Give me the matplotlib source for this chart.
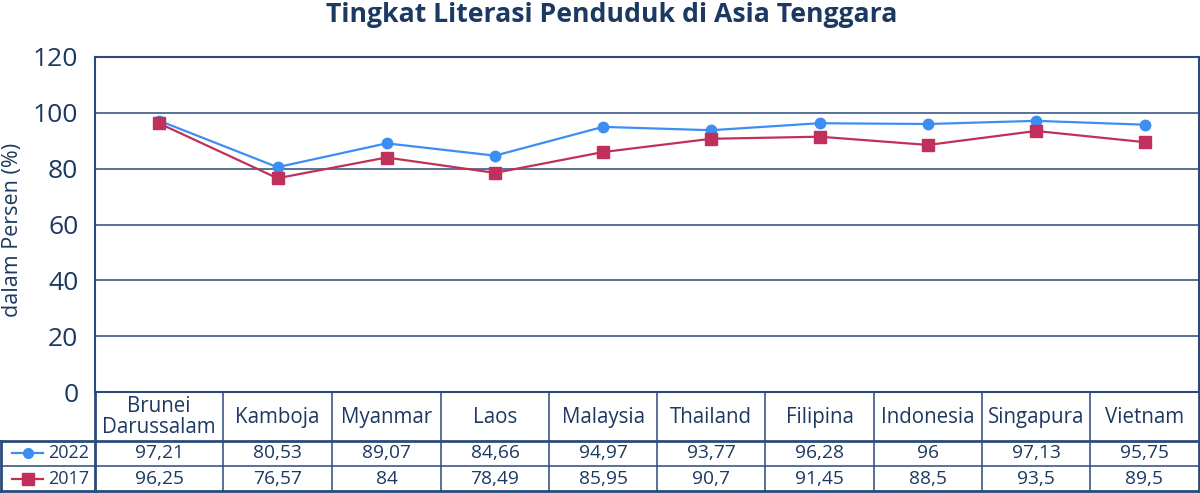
import matplotlib.pyplot as plt
import numpy as np

plt.rcParams['font.family'] = ['Open Sans', 'DejaVu Sans']

countries = ["Brunei\nDarussalam", "Kamboja", "Myanmar", "Laos", "Malaysia",
             "Thailand", "Filipina", "Indonesia", "Singapura", "Vietnam"]
lit_2022 = [97.21, 80.53, 89.07, 84.66, 94.97, 93.77, 96.28, 96, 97.13, 95.75]
lit_2017 = [96.25, 76.57, 84, 78.49, 85.95, 90.7, 91.45, 88.5, 93.5, 89.5]
labels_2022 = ["97,21", "80,53", "89,07", "84,66", "94,97", "93,77", "96,28", "96", "97,13", "95,75"]
labels_2017 = ["96,25", "76,57", "84", "78,49", "85,95", "90,7", "91,45", "88,5", "93,5", "89,5"]
yticks = [0, 20, 40, 60, 80, 100, 120]

navy = '#1c3961'
line_c = '#2b4a7a'
blue = '#3d8ef2'
red = '#c0305a'

W, H = 1200, 493
fig = plt.figure(figsize=(12, 4.93), dpi=100)

# pixel layout (the first table column is wider than the rest)
px_left, px_right, px_top, px_bot = 95, 1199, 57, 392
col_edges = np.array([95, 223, 332, 441, 549, 657, 765, 874, 982, 1090, 1199], dtype=float)
col_mid = (col_edges[:-1] + col_edges[1:]) / 2

ax = fig.add_axes([px_left / W, (H - px_bot) / H, (px_right - px_left) / W, (px_bot - px_top) / H])
ax.plot(col_mid, lit_2022, color=blue, lw=1.6, marker='o', ms=7.5, zorder=3)
ax.plot(col_mid, lit_2017, color=red, lw=1.6, marker='s', ms=8, zorder=3)

ax.set_xlim(px_left, px_right)
ax.set_ylim(0, 120)
ax.set_yticks(yticks)
ax.set_yticklabels([str(v) for v in yticks], fontsize=19, color=navy)
ax.tick_params(axis='y', length=0, pad=12)
ax.set_xticks([])
ax.grid(axis='y', color=line_c, lw=1.1)
ax.set_axisbelow(True)
for s in ax.spines.values():
    s.set_color(line_c)
    s.set_linewidth(1.5)

fig.text(13 / W, 1 - 230 / H, "dalam Persen (%)", rotation=90, fontsize=15.5,
         color=navy, ha='center', va='center')
fig.text(612 / W, 1 - 15 / H, "Tingkat Literasi Penduduk di Asia Tenggara",
         fontsize=19.2, fontweight='bold', color=navy, ha='center', va='center')

# data table below the plot, in pixel coordinates
tab = fig.add_axes([0, 0, 1, (H - px_bot) / H])
tab.set_xlim(0, W)
tab.set_ylim(H, px_bot)
tab.axis('off')

r1, r2, r3 = 440.5, 466, 491
thin, thick = 1.1, 2.0
for yy, lw in [(r1, thick), (r2, thin), (r3, thick)]:
    tab.plot([1, px_right], [yy, yy], color=line_c, lw=lw, clip_on=False)
tab.plot([1, 1], [r1, r3], color=line_c, lw=thick, clip_on=False)
for i, xx in enumerate(col_edges):
    lw = thick if i in (0, len(col_edges) - 1) else thin
    tab.plot([xx, xx], [px_bot, r3], color=line_c, lw=lw, clip_on=False)

fs_head = 14.8
fs_val = 13.8
for i, name in enumerate(countries):
    tab.text(col_mid[i], (px_bot + r1) / 2 + 1, name, ha='center', va='center', fontsize=fs_head,
             color=navy, linespacing=1.0)
    tab.text(col_mid[i], (r1 + r2) / 2, labels_2022[i], ha='center', va='center', fontsize=fs_val, color=navy)
    tab.text(col_mid[i], (r2 + r3) / 2, labels_2017[i], ha='center', va='center', fontsize=fs_val, color=navy)

for yy, col, mk, ms, lab in [((r1 + r2) / 2, blue, 'o', 7, "2022"),
                             ((r2 + r3) / 2, red, 's', 8, "2017")]:
    tab.plot([12, 43], [yy, yy], color=col, lw=1.6, clip_on=False)
    tab.plot([27.5], [yy], color=col, marker=mk, ms=ms, clip_on=False)
    tab.text(89, yy, lab, ha='right', va='center', fontsize=13, color=navy)

fig.savefig("out.png", dpi=100)
